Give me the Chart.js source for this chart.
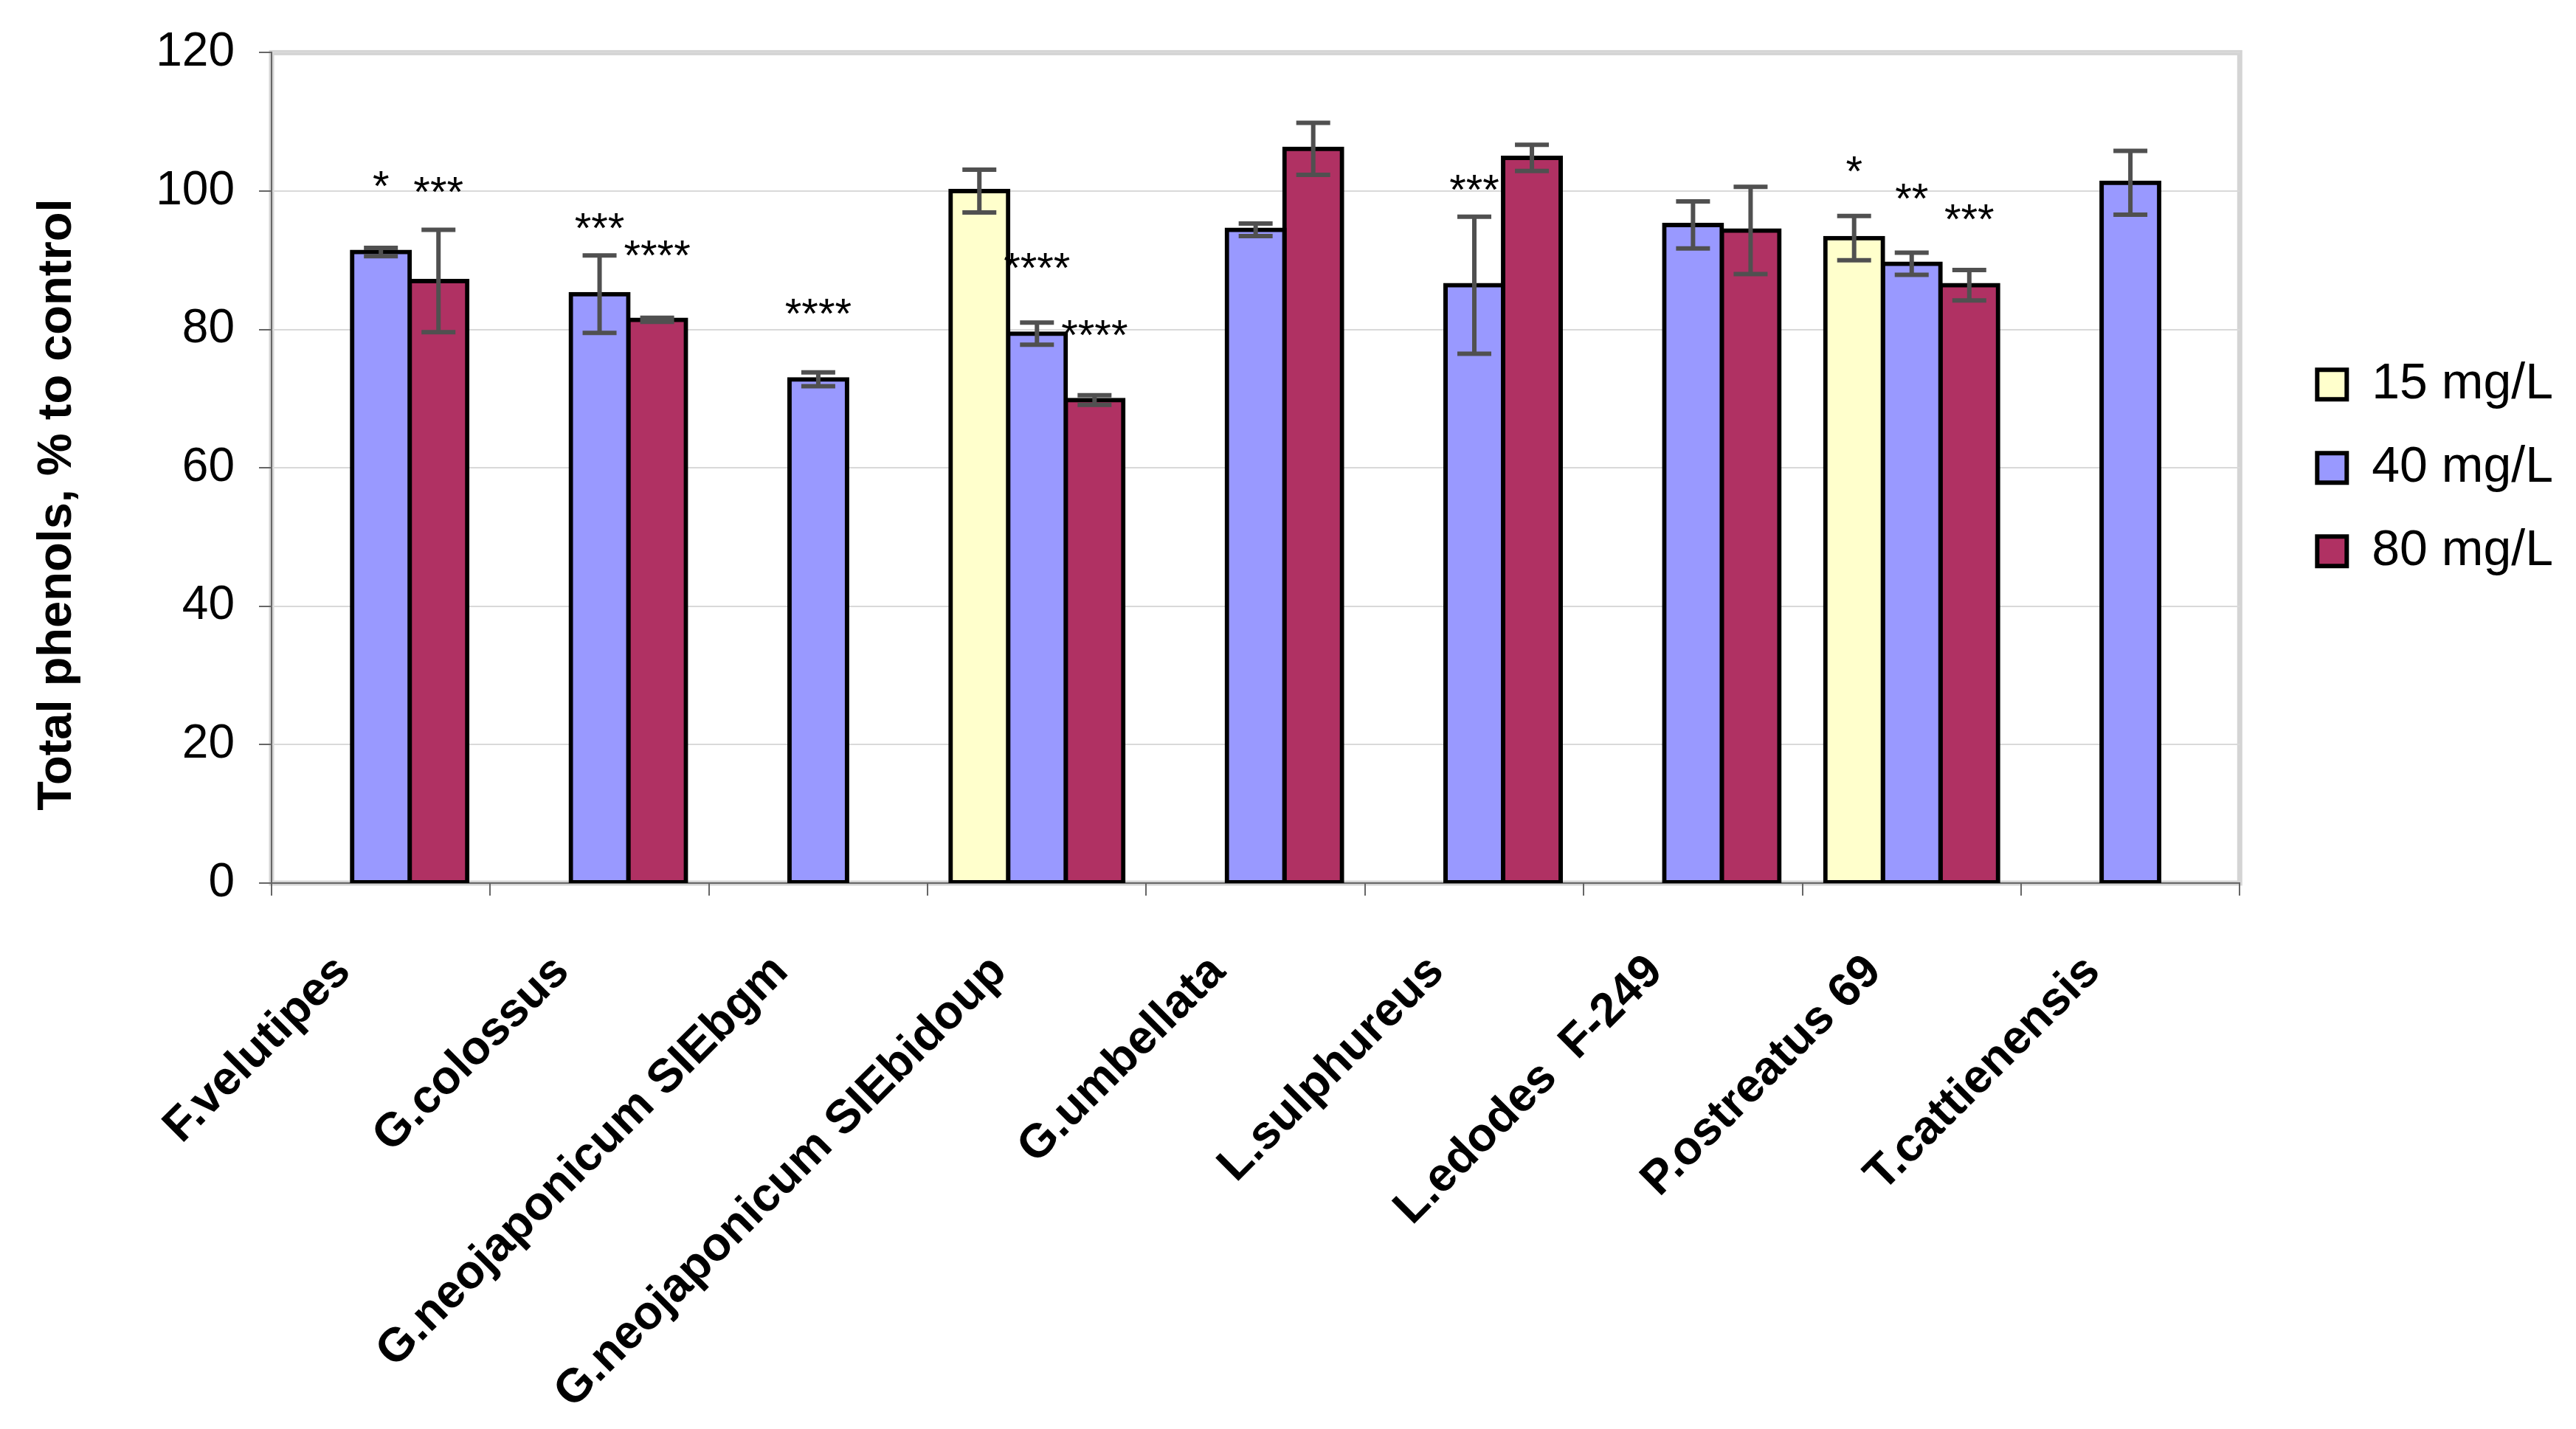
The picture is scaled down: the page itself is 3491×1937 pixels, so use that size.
<!DOCTYPE html>
<html lang="en">
<head>
<meta charset="utf-8">
<title>Total phenols, % to control</title>
<script src="https://cdn.jsdelivr.net/npm/chart.js@4.4.1/dist/chart.umd.min.js"></script>
<style>
    html, body { margin: 0; padding: 0; background: #ffffff; }
    #chartBox { width: 3491px; height: 1937px; }
</style>
</head>
<body>
<div id="chartBox"><canvas id="phenolsChart" width="3491" height="1937"></canvas></div>
<script>
// Strains on the x axis
const strains = ['F.velutipes', 'G.colossus', 'G.neojaponicum SIEbgm', 'G.neojaponicum SIEbidoup',
    'G.umbellata', 'L.sulphureus', 'L.edodes  F-249', 'P.ostreatus 69', 'T.cattienensis'];

// Mean values, % to control
const mg15 = [null, null, null, 100.0, null, null, null, 93.2, null];
const mg40 = [91.2, 85.1, 72.8, 79.4, 94.4, 86.4, 95.1, 89.5, 101.2];
const mg80 = [87.0, 81.4, null, 69.8, 106.1, 104.8, 94.3, 86.4, null];

// Error bar half lengths
const err15 = [null, null, null, 3.1, null, null, null, 3.2, null];
const err40 = [0.6, 5.6, 1.0, 1.6, 0.9, 9.9, 3.4, 1.6, 4.6];
const err80 = [7.4, 0.3, null, 0.7, 3.75, 1.9, 6.3, 2.2, null];

// Significance marks and the value they sit at
const stars15 = [null, null, null, null, null, null, null, '*', null];
const stars40 = ['*', '***', '****', '****', null, '***', null, '**', null];
const stars80 = ['***', '****', null, '****', null, null, null, '***', null];
const starAt15 = [null, null, null, null, null, null, null, 103.2, null];
const starAt40 = [101.1, 95.0, 82.6, 89.3, null, 100.6, null, 99.3, null];
const starAt80 = [100.2, 91.1, null, 79.5, null, null, null, 96.3, null];

const yTicks = [0, 20, 40, 60, 80, 100, 120];
const yTitleText = 'Total phenols, % to control';

document.addEventListener('DOMContentLoaded', function() {
    const fontFamily = '"Liberation Sans", Arial, sans-serif';
    Chart.defaults.font.family = fontFamily;
    Chart.defaults.color = '#000000';

    // Light grey frame round the plot area (drawn under the axes)
    const plotFrame = {
        id: 'plotFrame',
        beforeDraw(chart) {
            const { ctx, chartArea: a } = chart;
            ctx.save();
            ctx.strokeStyle = '#d4d4d4';
            ctx.lineWidth = 7;
            ctx.strokeRect(a.left, a.top, a.right - a.left, a.bottom - a.top);
            ctx.restore();
        }
    };

    // Error bars and asterisks on top of the bars
    const barExtras = {
        id: 'barExtras',
        afterDatasetsDraw(chart) {
            const { ctx } = chart;
            const yScale = chart.scales.y;
            chart.data.datasets.forEach((ds, di) => {
                const meta = chart.getDatasetMeta(di);
                ds.data.forEach((v, i) => {
                    const bar = meta.data[i];
                    if (v == null || !bar) return;
                    const e = ds.errors[i];
                    if (e != null) {
                        const top = yScale.getPixelForValue(v + e);
                        const bottom = yScale.getPixelForValue(v - e);
                        const half = 23;
                        ctx.save();
                        ctx.strokeStyle = '#505050';
                        ctx.lineWidth = 6;
                        ctx.beginPath();
                        ctx.moveTo(bar.x, top);
                        ctx.lineTo(bar.x, bottom);
                        ctx.moveTo(bar.x - half, top);
                        ctx.lineTo(bar.x + half, top);
                        ctx.moveTo(bar.x - half, bottom);
                        ctx.lineTo(bar.x + half, bottom);
                        ctx.stroke();
                        ctx.restore();
                    }
                    const mark = ds.stars[i];
                    if (mark) {
                        const size = 58;
                        ctx.save();
                        ctx.fillStyle = '#000000';
                        ctx.font = size + 'px ' + fontFamily;
                        ctx.textAlign = 'center';
                        ctx.textBaseline = 'alphabetic';
                        ctx.fillText(mark, bar.x, yScale.getPixelForValue(ds.starAt[i]) + size * 0.4);
                        ctx.restore();
                    }
                });
            });
        }
    };

    // Y axis title, sits a little below the middle of the plot like the original
    const yTitle = {
        id: 'yTitle',
        afterDraw(chart) {
            const { ctx, chartArea: a } = chart;
            ctx.save();
            ctx.translate(78, (a.top + a.bottom) / 2 + 50);
            ctx.rotate(-Math.PI / 2);
            ctx.fillStyle = '#000000';
            ctx.font = 'bold 65px ' + fontFamily;
            ctx.textAlign = 'center';
            ctx.textBaseline = 'middle';
            ctx.fillText(yTitleText, 0, 0);
            ctx.restore();
        }
    };

    function series(label, data, errors, stars, starAt, color) {
        return {
            label: label,
            data: data,
            errors: errors,
            stars: stars,
            starAt: starAt,
            backgroundColor: color,
            borderColor: '#000000',
            borderWidth: 6,
            borderSkipped: false,
            inflateAmount: 3,
            categoryPercentage: 0.79,
            barPercentage: 1.0
        };
    }

    const ctx = document.getElementById('phenolsChart');
    new Chart(ctx, {
        type: 'bar',
        data: {
            labels: strains,
            datasets: [
                series('15 mg/L', mg15, err15, stars15, starAt15, '#ffffcc'),
                series('40 mg/L', mg40, err40, stars40, starAt40, '#9999ff'),
                series('80 mg/L', mg80, err80, stars80, starAt80, '#b03163')
            ]
        },
        options: {
            responsive: false,
            animation: false,
            devicePixelRatio: 1,
            layout: {
                padding: { top: 63, right: 21, bottom: 0, left: 0 }
            },
            plugins: {
                legend: {
                    position: 'right',
                    fullSize: false,
                    labels: {
                        boxWidth: 40,
                        boxHeight: 40,
                        padding: 45,
                        color: '#000000',
                        font: { size: 68 }
                    }
                },
                tooltip: { enabled: false }
            },
            scales: {
                x: {
                    grid: {
                        display: true,
                        drawOnChartArea: false,
                        drawTicks: true,
                        tickLength: 17,
                        color: '#666666',
                        lineWidth: 2,
                        offset: true
                    },
                    border: { display: true, color: '#666666', width: 2 },
                    ticks: {
                        autoSkip: false,
                        maxRotation: 45,
                        minRotation: 45,
                        padding: 66,
                        labelOffset: -51,
                        color: '#000000',
                        font: { size: 64, weight: 'bold' }
                    },
                    afterFit(scale) { scale.height = 740; }
                },
                y: {
                    min: yTicks[0],
                    max: yTicks[yTicks.length - 1],
                    afterBuildTicks(scale) { scale.ticks = yTicks.map(v => ({ value: v })); },
                    grid: {
                        color: '#d9d9d9',
                        lineWidth: 2,
                        tickColor: '#666666',
                        tickLength: 17,
                        tickWidth: 2
                    },
                    border: { display: true, color: '#666666', width: 2 },
                    ticks: {
                        padding: 33,
                        color: '#000000',
                        font: { size: 64 }
                    },
                    afterFit(scale) { scale.width = 368; }
                },
                gap: {
                    type: 'linear',
                    position: 'right',
                    grid: { display: false },
                    border: { display: false },
                    ticks: { display: false },
                    afterFit(scale) { scale.width = 60; }
                }
            }
        },
        plugins: [plotFrame, barExtras, yTitle]
    });
});
</script>
</body>
</html>
